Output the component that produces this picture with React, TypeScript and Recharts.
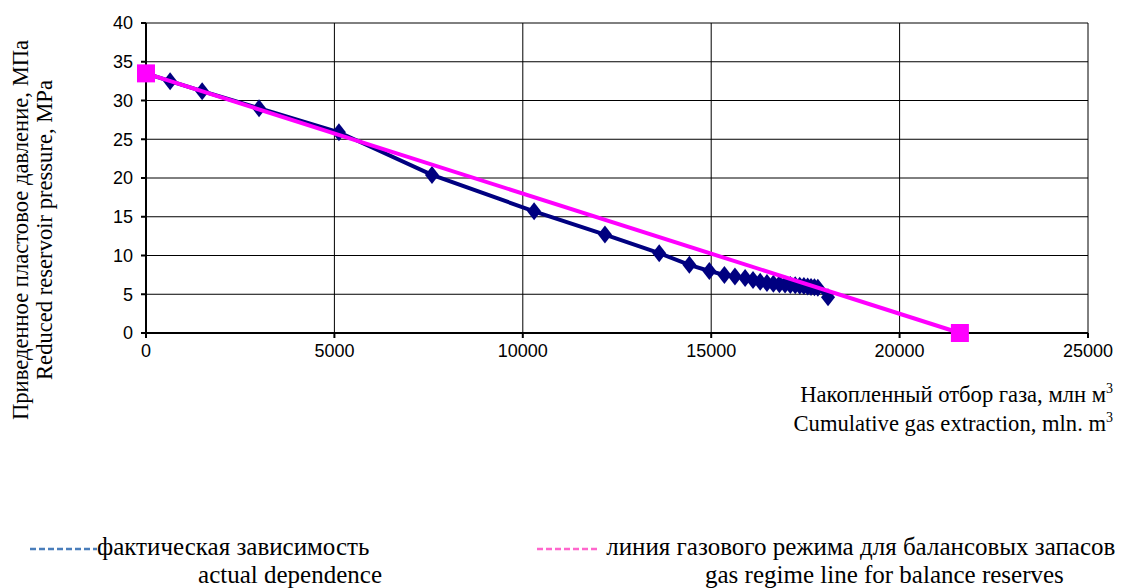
import React from 'react';
import { ScatterChart, Scatter, XAxis, YAxis, CartesianGrid } from 'recharts';

// cumulative gas extraction, mln m3
const actualX = [0, 640, 1490, 3000, 5120, 7590, 10300, 12180, 13620, 14420, 14950, 15350, 15630, 15900, 16110, 16300, 16480, 16650, 16810, 16960, 17100, 17230, 17350, 17460, 17560, 17650, 17740, 17830, 18100];
// reduced reservoir pressure, MPa
const actualP = [33.5, 32.5, 31.2, 29.0, 25.9, 20.4, 15.7, 12.7, 10.3, 8.8, 8.0, 7.5, 7.3, 7.1, 6.85, 6.6, 6.45, 6.35, 6.3, 6.25, 6.2, 6.15, 6.1, 6.05, 6.0, 5.95, 5.9, 5.85, 4.6];

const regimeX = [0, 21600];
const regimeP = [33.5, 0];

const xTicks = [0, 5000, 10000, 15000, 20000, 25000];
const yTicks = [0, 5, 10, 15, 20, 25, 30, 35, 40];

const actualData = actualX.map((x, i) => ({ x, p: actualP[i] }));
const regimeData = regimeX.map((x, i) => ({ x, p: regimeP[i] }));

const Diamond = (props: any) => {
  const { cx, cy } = props;
  return <polygon points={`${cx},${cy - 9} ${cx + 7},${cy} ${cx},${cy + 9} ${cx - 7},${cy}`} fill="#000080" />;
};

const Square = (props: any) => {
  const { cx, cy } = props;
  return <rect x={cx - 9} y={cy - 9} width={18} height={18} fill="#ff00ff" />;
};

const serif = "'Liberation Serif', 'Times New Roman', serif";
const sans = "'Liberation Sans', Arial, sans-serif";

const DashLine = ({ color, width }: { color: string; width: number }) => (
  <svg width={width} height={6} style={{ display: 'inline-block', verticalAlign: 'middle' }}>
    <line x1={0} y1={3} x2={width} y2={3} stroke={color} strokeWidth={2.5} strokeDasharray="6 3" />
  </svg>
);

const Sup = () => (
  <span style={{ position: 'relative', top: -9, fontSize: 14 }}>3</span>
);

const App = () => {
  return (
    <div style={{ position: 'absolute', left: 0, top: 0, width: 1125, height: 588, background: '#fff', fontFamily: serif }}>
      <ScatterChart width={1125} height={588} margin={{ top: 23, right: 37, left: 86, bottom: 205 }}>
        <CartesianGrid stroke="#000" strokeWidth={1} />
        <XAxis
          type="number"
          dataKey="x"
          domain={[0, 25000]}
          ticks={xTicks}
          height={50}
          tickSize={5}
          stroke="#000"
          strokeWidth={2}
          tick={{ fill: '#000', fontSize: 18, fontFamily: sans }}
          tickMargin={6}
        />
        <YAxis
          type="number"
          dataKey="p"
          domain={[0, 40]}
          ticks={yTicks}
          width={60}
          tickSize={5}
          stroke="#000"
          strokeWidth={2}
          tick={{ fill: '#000', fontSize: 18, fontFamily: sans }}
          tickMargin={8}
        />
        <Scatter
          data={actualData}
          fill="#000080"
          line={{ stroke: '#000080', strokeWidth: 4 }}
          lineType="joint"
          shape={Diamond}
          isAnimationActive={false}
        />
        <Scatter
          data={regimeData}
          fill="#ff00ff"
          line={{ stroke: '#ff00ff', strokeWidth: 4 }}
          lineType="joint"
          shape={Square}
          isAnimationActive={false}
        />
      </ScatterChart>

      <div style={{ position: 'absolute', left: 0, top: 0, width: 70, height: 460 }}>
        <div style={{ position: 'absolute', left: 33, top: 230, transform: 'translate(-50%, -50%) rotate(-90deg)', whiteSpace: 'nowrap', fontSize: 22.6, lineHeight: '24px', textAlign: 'center' }}>
          Приведенное пластовое давление, МПа
          <br />
          Reduced reservoir pressure, MPa
        </div>
      </div>

      <div style={{ position: 'absolute', right: 12, top: 382, fontSize: 22.6, lineHeight: '26px', textAlign: 'right', whiteSpace: 'nowrap' }}>
        <div>Накопленный отбор газа, млн м<Sup /></div>
        <div>Cumulative gas extraction, mln. m<Sup /></div>
      </div>

      <div style={{ position: 'absolute', left: 30, top: 533, fontSize: 25, whiteSpace: 'nowrap', lineHeight: '28px' }}>
        <DashLine color="#4a7ebb" width={67} />фактическая зависимость
      </div>
      <div style={{ position: 'absolute', right: 743, top: 561, fontSize: 25, whiteSpace: 'nowrap', lineHeight: '28px' }}>
        actual dependence
      </div>
      <div style={{ position: 'absolute', left: 537, top: 533, fontSize: 25, whiteSpace: 'nowrap', lineHeight: '28px' }}>
        <DashLine color="#ff66cc" width={63} /> линия газового режима для балансовых запасов
      </div>
      <div style={{ position: 'absolute', left: 705, top: 561, fontSize: 25, whiteSpace: 'nowrap', lineHeight: '28px' }}>
        gas regime line for balance reserves
      </div>
    </div>
  );
};

export default App;
